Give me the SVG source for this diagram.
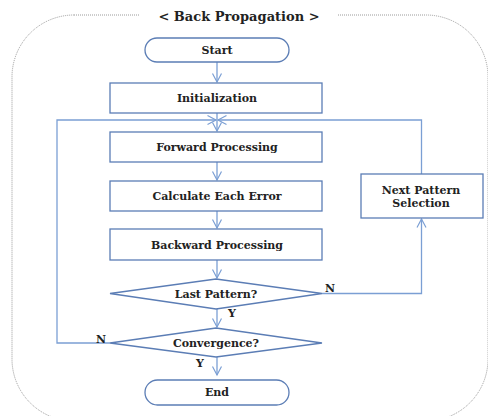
<svg xmlns="http://www.w3.org/2000/svg" width="488" height="416" viewBox="0 0 488 416">
<defs>
<marker id="ah" markerWidth="12" markerHeight="12" refX="10" refY="6" orient="auto" markerUnits="userSpaceOnUse">
<path d="M1.5,1.5 L10,6 L1.5,10.5" fill="none" stroke="#7b9fd4" stroke-width="1.2"/>
</marker>
<style>
.box{fill:#fff;stroke:#5b7db5;stroke-width:1.3}
.ln{fill:none;stroke:#7b9fd4;stroke-width:1.3}
.t{font-family:"DejaVu Serif","Liberation Serif",serif;font-size:10.5px;fill:#222;text-anchor:middle;dominant-baseline:central}
.lbl{font-family:"DejaVu Serif","Liberation Serif",serif;font-size:11px;font-weight:bold;fill:#222;text-anchor:middle;dominant-baseline:central}
</style>
</defs>
<rect width="488" height="416" fill="#fff"/>
<rect x="12" y="15" width="476" height="406" rx="62" ry="62" fill="none" stroke="#9a9a9a" stroke-width="1" stroke-dasharray="1,1"/>
<rect x="140" y="6" width="198" height="18" fill="#fff"/>
<text x="239" y="16" class="lbl" style="font-size:13px">&lt;  Back Propagation &gt;</text>
<g id="connectors">
<line class="ln" x1="217" y1="62" x2="217" y2="82" marker-end="url(#ah)"/>
<line class="ln" x1="217" y1="113" x2="217" y2="131" marker-end="url(#ah)"/>
<line class="ln" x1="217" y1="162" x2="217" y2="180" marker-end="url(#ah)"/>
<line class="ln" x1="217" y1="211" x2="217" y2="228" marker-end="url(#ah)"/>
<line class="ln" x1="217" y1="260" x2="217" y2="278" marker-end="url(#ah)"/>
<line class="ln" x1="217" y1="309" x2="217" y2="327" marker-end="url(#ah)"/>
<line class="ln" x1="217" y1="357" x2="217" y2="375" marker-end="url(#ah)"/>
<polyline class="ln" points="322,293.5 421.5,293.5 421.5,219" marker-end="url(#ah)"/>
<polyline class="ln" points="421.5,174 421.5,120 218,120" marker-end="url(#ah)"/>
<polyline class="ln" points="110,343 57,343 57,120 216,120" marker-end="url(#ah)"/>
<text x="330" y="288" class="lbl">N</text>
<text x="232" y="313" class="lbl">Y</text>
<text x="101" y="339" class="lbl">N</text>
<text x="200" y="363" class="lbl">Y</text>
</g>
<g id="start"><rect class="box" x="145" y="38" width="144" height="24" rx="12"/><text x="217" y="50" class="lbl">Start</text></g>
<g id="init"><rect class="box" x="110" y="83" width="212" height="30"/><text x="217" y="98.5" class="lbl">Initialization</text></g>
<g id="forward"><rect class="box" x="110" y="132" width="212" height="30"/><text x="217" y="147.5" class="lbl">Forward Processing</text></g>
<g id="calc"><rect class="box" x="110" y="181" width="212" height="30"/><text x="217" y="196.5" class="lbl">Calculate Each Error</text></g>
<g id="backward"><rect class="box" x="110" y="229" width="212" height="31"/><text x="217" y="245" class="lbl">Backward Processing</text></g>
<g id="next"><rect class="box" x="361" y="174" width="122" height="44"/><text x="421" y="190" class="lbl">Next Pattern</text><text x="421" y="203" class="lbl">Selection</text></g>
<g id="last"><polygon class="box" points="110,293.5 216,279 322,293.5 216,309"/><text x="216" y="294" class="lbl">Last Pattern?</text></g>
<g id="conv"><polygon class="box" points="110,343 216,328 322,343 216,357"/><text x="216" y="343" class="lbl">Convergence?</text></g>
<g id="end"><rect class="box" x="145" y="380" width="144" height="25" rx="12.5"/><text x="217" y="392.5" class="lbl">End</text></g>
</svg>
